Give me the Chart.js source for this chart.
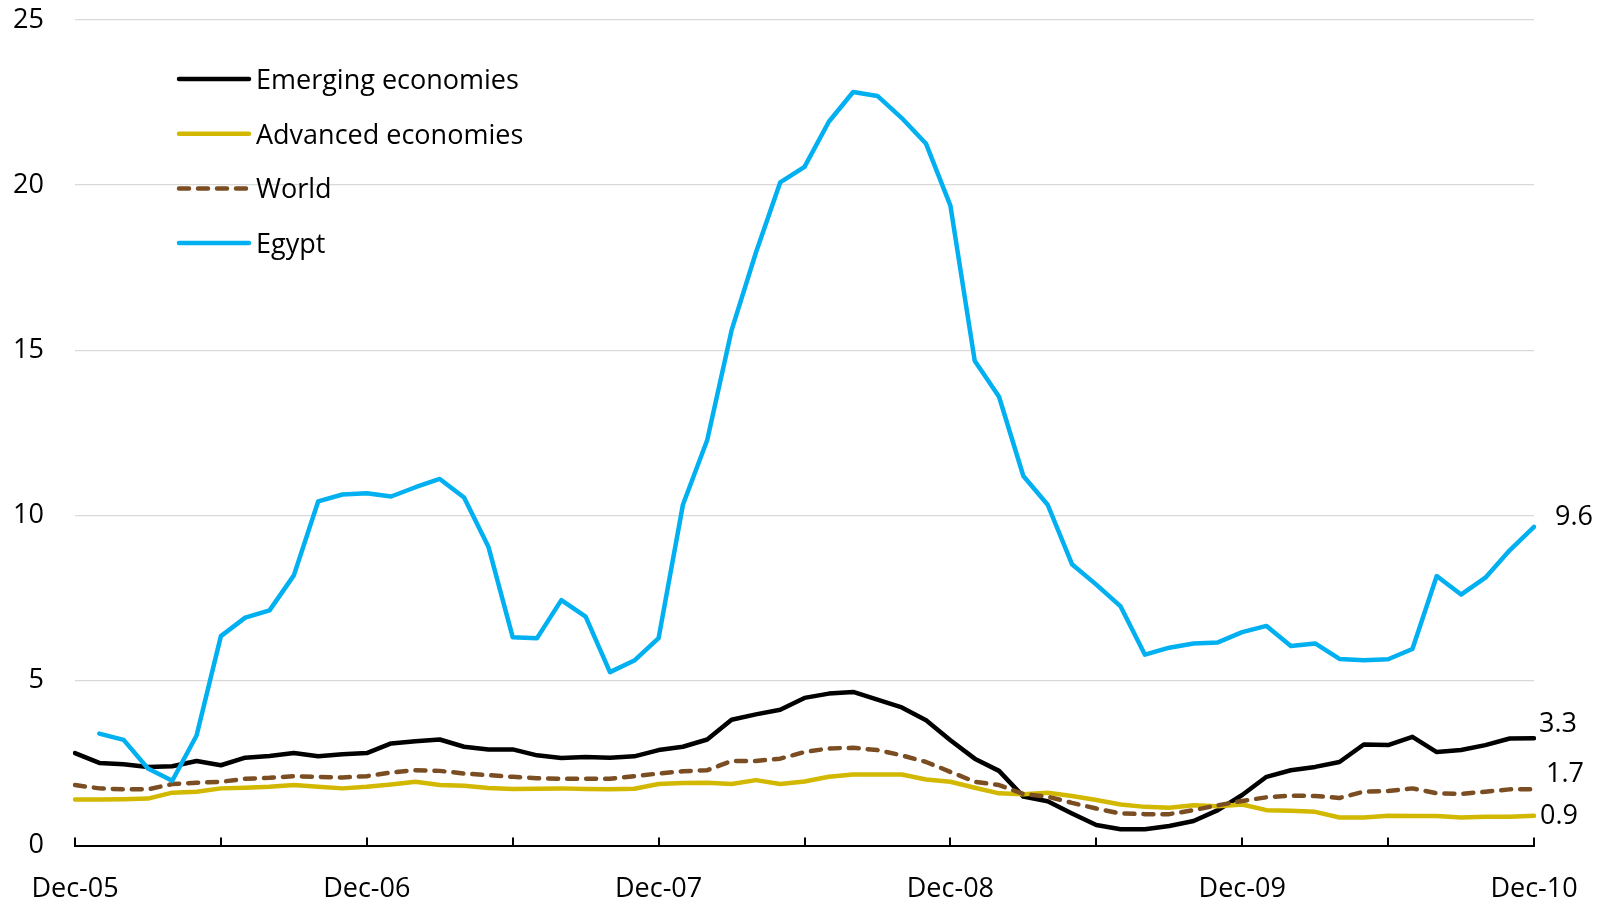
<!DOCTYPE html>
<html>
<head>
<meta charset="utf-8">
<script src="https://cdn.jsdelivr.net/npm/chart.js@4.4.1/dist/chart.umd.min.js"></script>
<style>
  html, body { margin: 0; padding: 0; background: #fff; }
  #wrap { width: 1610px; height: 903px; }
</style>
</head>
<body>
<div id="wrap"><canvas id="inflationChart"></canvas></div>
<script>
// Month labels Dec-05 .. Dec-10
const monthNames = ["Jan", "Feb", "Mar", "Apr", "May", "Jun", "Jul", "Aug", "Sep", "Oct", "Nov", "Dec"];
const months = [];
for (let i = 0; i <= 60; i++) {
    const m = (11 + i) % 12;
    const yr = 5 + Math.floor((11 + i) / 12);
    months.push(monthNames[m] + "-" + String(yr).padStart(2, "0"));
}

const emerging = [2.80, 2.50, 2.46, 2.38, 2.40, 2.56, 2.43, 2.66, 2.71, 2.80, 2.70, 2.76, 2.80,
    3.09, 3.16, 3.21, 2.99, 2.91, 2.91, 2.73, 2.65, 2.68, 2.66, 2.70, 2.89,
    2.99, 3.21, 3.81, 3.97, 4.11, 4.47, 4.60, 4.65, 4.42, 4.18, 3.79, 3.19,
    2.63, 2.26, 1.48, 1.34, 0.97, 0.62, 0.49, 0.49, 0.59, 0.74, 1.07, 1.53,
    2.08, 2.28, 2.38, 2.53, 3.06, 3.04, 3.29, 2.83, 2.89, 3.04, 3.24, 3.25];

const advanced = [1.39, 1.39, 1.40, 1.42, 1.60, 1.63, 1.73, 1.75, 1.78, 1.83, 1.78, 1.73, 1.78,
    1.85, 1.93, 1.83, 1.81, 1.74, 1.71, 1.72, 1.73, 1.71, 1.70, 1.72, 1.86,
    1.89, 1.90, 1.86, 1.98, 1.86, 1.94, 2.08, 2.15, 2.15, 2.15, 2.00, 1.93,
    1.75, 1.58, 1.55, 1.60, 1.50, 1.38, 1.24, 1.17, 1.14, 1.22, 1.19, 1.24,
    1.07, 1.05, 1.02, 0.85, 0.85, 0.90, 0.89, 0.89, 0.85, 0.87, 0.87, 0.90];

const world = [1.83, 1.73, 1.70, 1.70, 1.86, 1.90, 1.93, 2.02, 2.05, 2.10, 2.08, 2.06, 2.10,
    2.21, 2.28, 2.26, 2.18, 2.13, 2.08, 2.04, 2.02, 2.02, 2.02, 2.10, 2.18,
    2.25, 2.28, 2.56, 2.56, 2.63, 2.83, 2.94, 2.96, 2.89, 2.73, 2.53, 2.23,
    1.93, 1.83, 1.56, 1.48, 1.29, 1.12, 0.97, 0.95, 0.95, 1.07, 1.22, 1.35,
    1.46, 1.51, 1.50, 1.44, 1.63, 1.65, 1.73, 1.58, 1.56, 1.63, 1.70, 1.70];

const egypt = [null, 3.39, 3.20, 2.33, 1.96, 3.33, 6.34, 6.90, 7.12, 8.18, 10.42, 10.63, 10.67,
    10.57, 10.85, 11.10, 10.54, 9.05, 6.31, 6.28, 7.43, 6.93, 5.25, 5.60, 6.28,
    10.32, 12.28, 15.60, 17.95, 20.08, 20.55, 21.92, 22.82, 22.70, 22.03, 21.25, 19.38,
    14.68, 13.59, 11.19, 10.32, 8.52, 7.90, 7.24, 5.78, 5.99, 6.12, 6.15, 6.46,
    6.65, 6.04, 6.12, 5.65, 5.61, 5.64, 5.95, 8.16, 7.60, 8.11, 8.94, 9.65];

const endLabels = ["3.3", "0.9", "1.7", "9.6"];

const FONT = "27px 'Open Sans'";

// label nudges (pixels) for the values at the right end
const endLabelOffsets = [
    { dx: 5, dy: -14 },
    { dx: 6, dy: 1 },
    { dx: 12, dy: -15 },
    { dx: 21, dy: -10 }
];

// Legend drawn inside the plot, top left
const legendBox = {
    id: "legendBox",
    afterDraw(chart) {
        const { ctx, chartArea } = chart;
        ctx.save();
        chart.data.datasets.forEach((ds, row) => {
            const y = chartArea.top + 59 + row * 54.7;
            const x0 = chartArea.left + 104;
            ctx.beginPath();
            ctx.strokeStyle = ds.borderColor;
            ctx.lineWidth = ds.borderWidth;
            ctx.lineCap = "round";
            ctx.setLineDash(ds.borderDash || []);
            ctx.moveTo(x0, y);
            ctx.lineTo(x0 + 70, y);
            ctx.stroke();
            ctx.setLineDash([]);
            ctx.fillStyle = "#000";
            ctx.font = FONT;
            ctx.textAlign = "left";
            ctx.textBaseline = "alphabetic";
            ctx.fillText(ds.label, x0 + 77, y + 10);
        });
        ctx.restore();
    }
};

// Last values written next to the line ends
const endValues = {
    id: "endValues",
    afterDraw(chart) {
        const { ctx } = chart;
        ctx.save();
        ctx.font = FONT;
        ctx.fillStyle = "#000";
        ctx.textAlign = "left";
        ctx.textBaseline = "middle";
        chart.data.datasets.forEach((ds, i) => {
            const meta = chart.getDatasetMeta(i);
            const pt = meta.data[meta.data.length - 1];
            const off = endLabelOffsets[i];
            ctx.fillText(endLabels[i], pt.x + off.dx, pt.y + off.dy);
        });
        ctx.restore();
    }
};

// Small tick marks every 6 months, pointing up into the plot
const innerTicks = {
    id: "innerTicks",
    beforeDatasetsDraw(chart) {
        const { ctx, chartArea } = chart;
        const xs = chart.scales.x;
        ctx.save();
        ctx.strokeStyle = "#000";
        ctx.lineWidth = 2;
        ctx.beginPath();
        for (let i = 0; i < months.length; i += 6) {
            const px = Math.round(xs.getPixelForValue(i));
            ctx.moveTo(px, chartArea.bottom);
            ctx.lineTo(px, chartArea.bottom - 8);
        }
        ctx.stroke();
        ctx.restore();
    }
};

const ctx = document.getElementById("inflationChart").getContext("2d");

new Chart(ctx, {
    type: "line",
    data: {
        labels: months,
        datasets: [
            { label: "Emerging economies", data: emerging, borderColor: "#000000", borderWidth: 4.5, order: 3 },
            { label: "Advanced economies", data: advanced, borderColor: "#D2B800", borderWidth: 4.5, order: 2 },
            { label: "World", data: world, borderColor: "#7A4E22", borderWidth: 4.5, borderDash: [10, 9], borderCapStyle: "round", order: 1 },
            { label: "Egypt", data: egypt, borderColor: "#00B0F0", borderWidth: 4.5, order: 0 }
        ]
    },
    options: {
        responsive: true,
        maintainAspectRatio: false,
        animation: false,
        layout: { padding: { top: 20, right: 76, left: 0, bottom: 0 } },
        elements: {
            point: { radius: 0 },
            line: { tension: 0, borderJoinStyle: "round", borderCapStyle: "round" }
        },
        plugins: {
            legend: { display: false },
            tooltip: { enabled: false }
        },
        scales: {
            x: {
                grid: { display: false, drawTicks: false },
                border: { display: true, color: "#000", width: 2 },
                ticks: {
                    autoSkip: false,
                    maxRotation: 0,
                    padding: 28,
                    color: "#000",
                    font: { family: "'Open Sans'", size: 27 },
                    callback: (val, idx) => (idx % 12 === 0 ? months[idx] : "")
                },
                afterFit: (scale) => { scale.height = 57.5; }
            },
            y: {
                min: 0,
                max: 25,
                border: { display: false },
                grid: {
                    drawTicks: false,
                    lineWidth: 1.3,
                    color: (c) => (c.tick && c.tick.value === 0 ? "rgba(0,0,0,0)" : "#D9D9D9")
                },
                ticks: {
                    stepSize: 5,
                    padding: 31,
                    color: "#000",
                    font: { family: "'Open Sans'", size: 27 }
                },
                afterFit: (scale) => {
                    scale.width = 75;
                    scale.paddingTop = 0;
                    scale.paddingBottom = 0;
                }
            }
        }
    },
    plugins: [innerTicks, legendBox, endValues]
});
</script>
</body>
</html>
